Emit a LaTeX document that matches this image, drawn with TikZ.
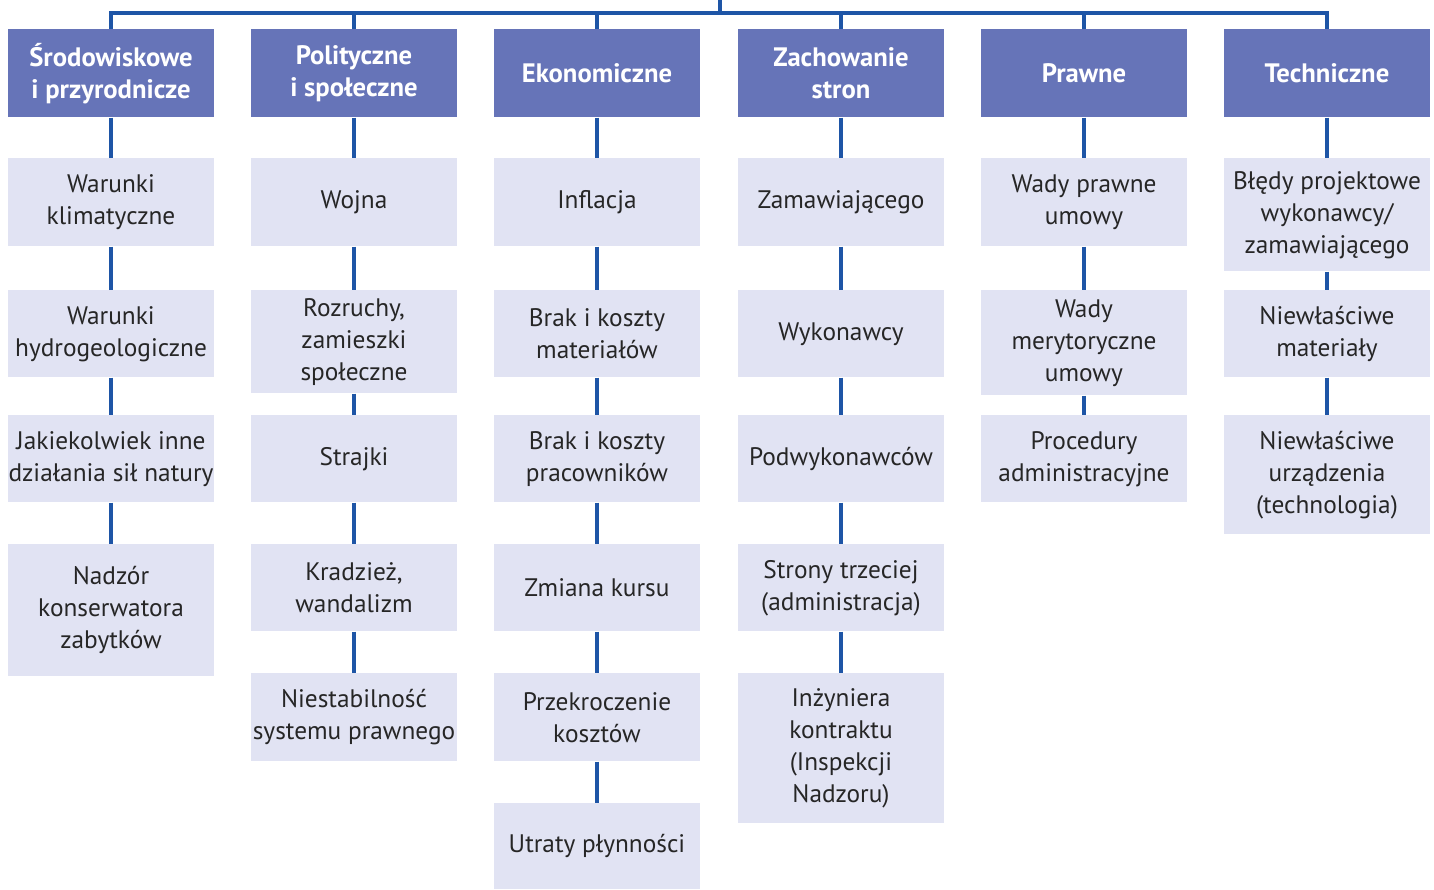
\documentclass[tikz,border=0pt]{standalone}
\usepackage{fontspec}
\setmainfont{PT Sans}
\definecolor{headc}{HTML}{6674B8}
\definecolor{lightc}{HTML}{E1E3F3}
\definecolor{linec}{HTML}{1E55A6}
\definecolor{textc}{HTML}{262626}
\newcommand\rbox[6]{\node[#1, minimum height=#5*0.75pt, anchor=north] (#2) at (#3,#4) {#6};}
\begin{document}
\begin{tikzpicture}[x=0.75pt,y=-0.75pt,
  basebox/.style={rectangle, inner sep=0pt, minimum width=154.5pt, align=center,
    font=\fontsize{19}{24}\selectfont},
  headbox/.style={basebox, fill=headc, text=white, font=\fontsize{20}{24}\selectfont\bfseries},
  itembox/.style={basebox, fill=lightc, text=textc},
  conn/.style={draw=linec, line width=3pt}]
\useasboundingbox (0,0) rectangle (1434,889);
% headers
\rbox{headbox}{h1}{111}{29}{88}{Środowiskowe\\i przyrodnicze}
\rbox{headbox}{h2}{354}{29}{88}{Polityczne\\i społeczne}
\rbox{headbox}{h3}{597}{29}{88}{Ekonomiczne}
\rbox{headbox}{h4}{841}{29}{88}{Zachowanie\\stron}
\rbox{headbox}{h5}{1084}{29}{88}{Prawne}
\rbox{headbox}{h6}{1327}{29}{88}{Techniczne}
% column 1
\rbox{itembox}{a1}{111}{158}{88}{Warunki\\klimatyczne}
\rbox{itembox}{a2}{111}{290}{87}{Warunki\\hydrogeologiczne}
\rbox{itembox}{a3}{111}{415}{87}{Jakiekolwiek inne\\działania sił natury}
\rbox{itembox}{a4}{111}{544}{132}{Nadzór\\konserwatora\\zabytków}
% column 2
\rbox{itembox}{b1}{354}{158}{88}{Wojna}
\rbox{itembox}{b2}{354}{290}{103}{Rozruchy,\\zamieszki\\społeczne}
\rbox{itembox}{b3}{354}{415}{87}{Strajki}
\rbox{itembox}{b4}{354}{544}{87}{Kradzież,\\wandalizm}
\rbox{itembox}{b5}{354}{673}{88}{Niestabilność\\systemu prawnego}
% column 3
\rbox{itembox}{c1}{597}{158}{88}{Inflacja}
\rbox{itembox}{c2}{597}{290}{87}{Brak i koszty\\materiałów}
\rbox{itembox}{c3}{597}{415}{87}{Brak i koszty\\pracowników}
\rbox{itembox}{c4}{597}{544}{87}{Zmiana kursu}
\rbox{itembox}{c5}{597}{673}{88}{Przekroczenie\\kosztów}
\rbox{itembox}{c6}{597}{803}{86}{Utraty płynności}
% column 4
\rbox{itembox}{d1}{841}{158}{88}{Zamawiającego}
\rbox{itembox}{d2}{841}{290}{87}{Wykonawcy}
\rbox{itembox}{d3}{841}{415}{87}{Podwykonawców}
\rbox{itembox}{d4}{841}{544}{87}{Strony trzeciej\\(administracja)}
\rbox{itembox}{d5}{841}{673}{150}{Inżyniera\\kontraktu\\(Inspekcji\\Nadzoru)}
% column 5
\rbox{itembox}{e1}{1084}{158}{88}{Wady prawne\\umowy}
\rbox{itembox}{e2}{1084}{290}{105}{Wady\\merytoryczne\\umowy}
\rbox{itembox}{e3}{1084}{415}{87}{Procedury\\administracyjne}
% column 6
\rbox{itembox}{f1}{1327}{158}{113}{Błędy projektowe\\wykonawcy/\\zamawiającego}
\rbox{itembox}{f2}{1327}{290}{87}{Niewłaściwe\\materiały}
\rbox{itembox}{f3}{1327}{415}{119}{Niewłaściwe\\urządzenia\\(technologia)}
% top bar
\coordinate (root) at (720,0);
\coordinate (bar) at (720,13);
\draw[conn] (root) -- (bar);
\draw[conn, line join=miter] (h1.north) -- (h1.north |- bar) -- (h6.north |- bar) -- (h6.north);
\foreach \h in {h2,h3,h4,h5} \draw[conn] (\h.north) -- (\h.north |- bar);
% column connectors
\draw[conn] (h1) -- (a1) (a1) -- (a2) (a2) -- (a3) (a3) -- (a4);
\draw[conn] (h2) -- (b1) (b1) -- (b2) (b2) -- (b3) (b3) -- (b4) (b4) -- (b5);
\draw[conn] (h3) -- (c1) (c1) -- (c2) (c2) -- (c3) (c3) -- (c4) (c4) -- (c5) (c5) -- (c6);
\draw[conn] (h4) -- (d1) (d1) -- (d2) (d2) -- (d3) (d3) -- (d4) (d4) -- (d5);
\draw[conn] (h5) -- (e1) (e1) -- (e2) (e2) -- (e3);
\draw[conn] (h6) -- (f1) (f1) -- (f2) (f2) -- (f3);
\end{tikzpicture}
\end{document}
